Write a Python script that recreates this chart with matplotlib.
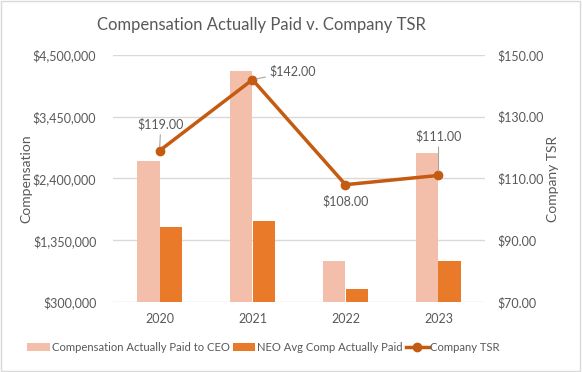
import matplotlib
matplotlib.use("Agg")
import matplotlib.pyplot as plt
from matplotlib.ticker import FuncFormatter
import numpy as np

years = ["2020", "2021", "2022", "2023"]
ceo_cap = [2705000, 4223000, 1000000, 2836000]
neo_cap = [1579000, 1681000, 514000, 990000]
tsr = [119.0, 142.0, 108.0, 111.0]

TEXT = "#595959"
CEO_COLOR = "#F4BFAA"
NEO_COLOR = "#E87A2A"
TSR_COLOR = "#C55A11"
GRID = "#D9D9D9"

plt.rcParams["font.family"] = ["Lato", "DejaVu Sans"]

fig = plt.figure(figsize=(5.82, 3.72), dpi=100)
fig.patch.set_facecolor("white")
fig.patches.append(plt.Rectangle((0.002, 0.003), 0.995, 0.994, transform=fig.transFigure,
                                 fill=False, edgecolor="#D9D9D9", lw=1))
ax = fig.add_axes([113 / 582, 1 - 302 / 372, 372 / 582, 247 / 372])
ax2 = ax.twinx()

x = np.arange(len(years))
w = 0.237
ax.bar(x - w / 2, ceo_cap, w, color=CEO_COLOR, label="Compensation Actually Paid to CEO", zorder=2)
ax.bar(x + w / 2, neo_cap, w, color=NEO_COLOR, label="NEO Avg Comp Actually Paid", zorder=2)
ax.set_xlim(-0.5, len(years) - 0.5)
ax.set_ylim(300000, 4500000)
ax.set_yticks([300000, 1350000, 2400000, 3450000, 4500000])
ax.yaxis.set_major_formatter(FuncFormatter(lambda v, p: f"${v:,.0f}"))
ax.grid(axis="y", color=GRID, lw=1, zorder=0)
ax.set_xticks(x)
ax.set_xticklabels(years)

ax2.plot(x, tsr, color=TSR_COLOR, lw=2.5, marker="o", ms=6, label="Company TSR", zorder=3)
ax2.set_ylim(70, 150)
ax2.set_yticks([70, 90, 110, 130, 150])
ax2.yaxis.set_major_formatter(FuncFormatter(lambda v, p: f"${v:.2f}"))

for a in (ax, ax2):
    for s in a.spines.values():
        s.set_visible(False)
    a.tick_params(length=0, colors=TEXT, labelsize=9)
ax.tick_params(axis="x", pad=8)
ax.tick_params(axis="y", pad=12)
ax2.tick_params(axis="y", pad=9)

ax.set_ylabel("Compensation", color=TEXT, fontsize=10, labelpad=0)
ax2.set_ylabel("Company TSR", color=TEXT, fontsize=10, labelpad=2)

# data labels, leader lines where the label sits away from its point
offsets = [(1, 19), (29, 6), (0, -12), (0, 28)]
leaders = [True, True, False, True]
for xi, yi, (dx, dy), lead in zip(x, tsr, offsets, leaders):
    ax2.annotate(f"${yi:.2f}", (xi, yi), xytext=(dx, dy), textcoords="offset points",
                 ha="center", va="center", fontsize=9, color=TEXT,
                 arrowprops=dict(arrowstyle="-", color="#A6A6A6", lw=0.8,
                                 shrinkA=1, shrinkB=3) if lead else None)

fig.suptitle("Compensation Actually Paid v. Company TSR", x=0.45, y=0.955, fontsize=12, color=TEXT)

h1, l1 = ax.get_legend_handles_labels()
h2, l2 = ax2.get_legend_handles_labels()
fig.legend(h1 + h2, l1 + l2, loc="center", bbox_to_anchor=(0.453, 0.065), ncol=3, frameon=False,
           fontsize=8.1, labelcolor=TEXT, handlelength=2.0, handletextpad=0.15, columnspacing=0.3)

fig.savefig("out.png", dpi=100)
